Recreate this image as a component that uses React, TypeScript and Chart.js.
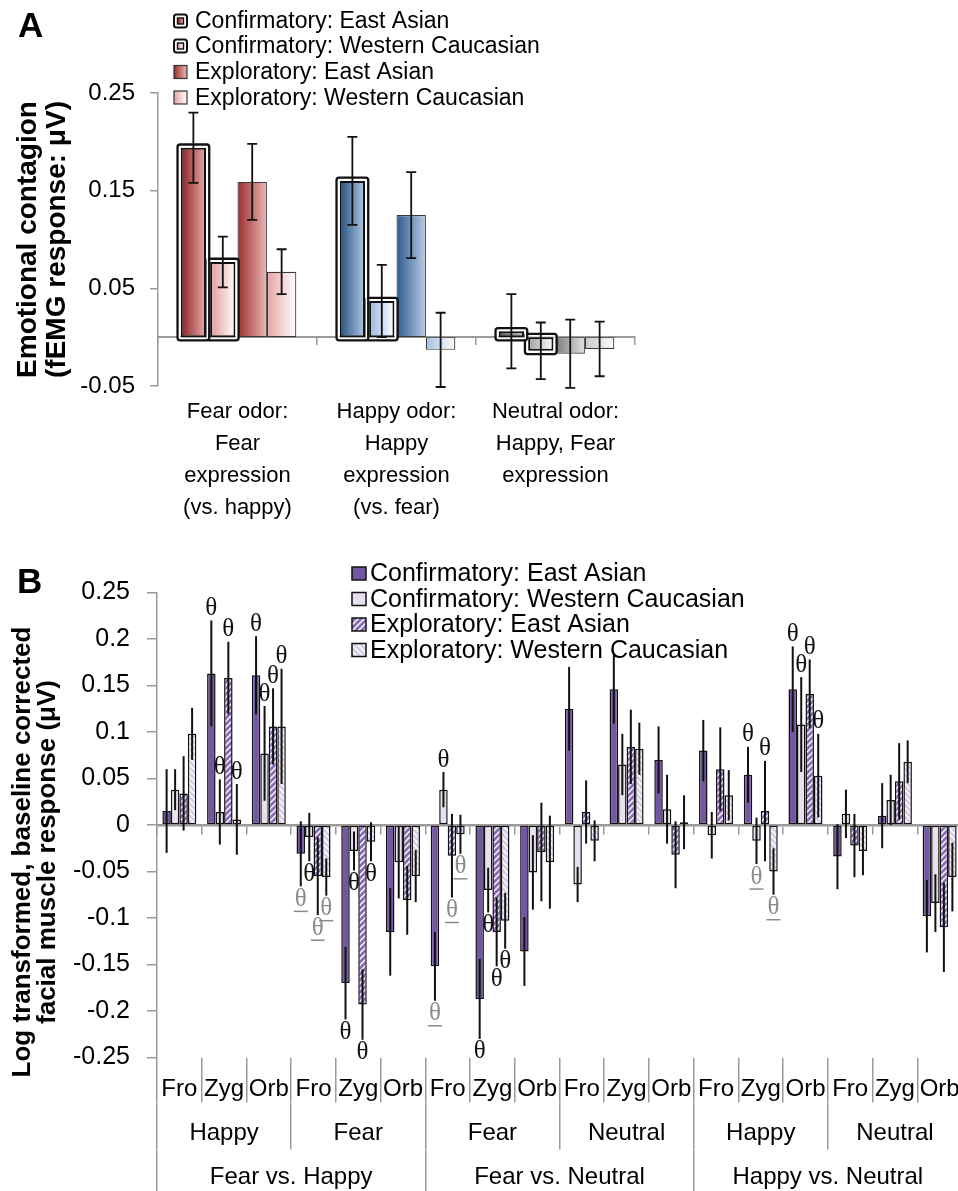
import React, { useEffect, useRef } from 'react';
import { Chart, registerables } from 'chart.js';

Chart.register(...registerables);

const SANS = '"Liberation Sans", Arial, Helvetica, sans-serif';
const SERIF = '"Liberation Serif", "Times New Roman", serif';
Chart.defaults.font.family = SANS;
Chart.defaults.color = '#000';

// ---------------- Panel A data ----------------
const aCategories = [
  ['Fear odor:', 'Fear', 'expression', '(vs. happy)'],
  ['Happy odor:', 'Happy', 'expression', '(vs. fear)'],
  ['Neutral odor:', 'Happy, Fear', 'expression'],
];
const aSeriesNames = [
  'Confirmatory: East Asian',
  'Confirmatory: Western Caucasian',
  'Exploratory: East Asian',
  'Exploratory: Western Caucasian',
];
const aConfEastAsian = [0.194, 0.16, 0.006];
const aConfEastAsianErr = [0.036, 0.045, 0.038];
const aConfWestern = [0.077, 0.037, -0.014];
const aConfWesternErr = [0.026, 0.037, 0.029];
const aExpEastAsian = [0.159, 0.125, -0.017];
const aExpEastAsianErr = [0.039, 0.044, 0.035];
const aExpWestern = [0.067, -0.013, -0.012];
const aExpWesternErr = [0.023, 0.038, 0.028];
const aTickValues = [-0.05, 0.05, 0.15, 0.25];
const aAxisTitle = ['Emotional contagion', '(fEMG response: \u03bcV)'];

// ---------------- Panel B data ----------------
const bMuscles = ['Fro', 'Zyg', 'Orb', 'Fro', 'Zyg', 'Orb', 'Fro', 'Zyg', 'Orb', 'Fro', 'Zyg', 'Orb', 'Fro', 'Zyg', 'Orb', 'Fro', 'Zyg', 'Orb'];
const bExpressions = ['Happy', 'Fear', 'Fear', 'Neutral', 'Happy', 'Neutral'];
const bComparisons = ['Fear vs. Happy', 'Fear vs. Neutral', 'Happy vs. Neutral'];
const bSeriesNames = [
  'Confirmatory: East Asian',
  'Confirmatory: Western Caucasian',
  'Exploratory: East Asian',
  'Exploratory: Western Caucasian',
];
const bConfEastAsian = [0.015, 0.163, 0.161, -0.031, -0.17, -0.115, -0.152, -0.187, -0.136, 0.125, 0.146, 0.07, 0.08, 0.054, 0.146, -0.034, 0.01, -0.098];
const bConfEastAsianErr = [0.045, 0.057, 0.042, 0.035, 0.039, 0.047, 0.037, 0.043, 0.037, 0.045, 0.037, 0.036, 0.033, 0.03, 0.046, 0.035, 0.035, 0.039];
const bConfWestern = [0.038, 0.014, 0.077, -0.013, -0.028, -0.04, 0.038, -0.07, -0.051, -0.064, 0.065, 0.017, -0.011, -0.017, 0.108, 0.012, 0.027, -0.084];
const bConfWesternErr = [0.022, 0.035, 0.051, 0.026, 0.021, 0.039, 0.019, 0.024, 0.04, 0.019, 0.033, 0.037, 0.025, 0.025, 0.051, 0.026, 0.027, 0.031];
const bExpEastAsian = [0.034, 0.158, 0.106, -0.055, -0.193, -0.081, -0.033, -0.115, -0.029, 0.014, 0.084, -0.032, 0.06, 0.015, 0.141, -0.022, 0.047, -0.11];
const bExpEastAsianErr = [0.04, 0.039, 0.041, 0.042, 0.038, 0.037, 0.045, 0.037, 0.053, 0.034, 0.04, 0.036, 0.045, 0.054, 0.037, 0.034, 0.041, 0.048];
const bExpWestern = [0.098, 0.006, 0.106, -0.056, -0.018, -0.055, -0.01, -0.103, -0.04, -0.017, 0.082, 0.003, 0.032, -0.05, 0.053, -0.028, 0.068, -0.056];
const bExpWesternErr = [0.028, 0.038, 0.062, 0.02, 0.021, 0.028, 0.021, 0.03, 0.05, 0.022, 0.028, 0.029, 0.027, 0.025, 0.045, 0.026, 0.023, 0.037];
// significance markers: 0 none, 1 black theta, 2 grey underlined theta
const bConfEastAsianSig = [0, 1, 1, 2, 1, 0, 2, 1, 0, 0, 0, 0, 0, 1, 1, 0, 0, 0];
const bConfWesternSig = [0, 1, 1, 1, 1, 0, 1, 1, 0, 0, 0, 0, 0, 2, 1, 0, 0, 0];
const bExpEastAsianSig = [0, 1, 1, 2, 1, 0, 2, 1, 0, 0, 0, 0, 0, 1, 1, 0, 0, 0];
const bExpWesternSig = [0, 1, 1, 2, 1, 0, 2, 1, 0, 0, 0, 0, 0, 2, 1, 0, 0, 0];
const bTickValues = [-0.25, -0.2, -0.15, -0.1, -0.05, 0, 0.05, 0.1, 0.15, 0.2, 0.25];
const bAxisTitle = ['Log transformed, baseline corrected', 'facial muscle response (\u03bcV)'];

// ---------------- styles ----------------
// gradient stops per category (fear red, happy blue, neutral grey) and per series
const aPalettes = [
  [['#8a1f1f', '#e8adad'], ['#e29a9a', '#ffffff'], ['#9a2d2d', '#ebb7b7'], ['#e6a2a2', '#ffffff']],
  [['#24507f', '#b3c9e5'], ['#98b7de', '#ffffff'], ['#2d5a8e', '#b8cde8'], ['#a4bfe2', '#ffffff']],
  [['#4a4a4a', '#c4c4c4'], ['#9c9c9c', '#ffffff'], ['#7a7a7a', '#e2e2e2'], ['#c6c6c6', '#ffffff']],
];
const AXIS_GREY = '#9a9a9a';
const fmt = (v: number) => String(Number(Number(v).toFixed(2)));

function makeHatch(ctx: CanvasRenderingContext2D, base: string, stripe: string, forward: boolean) {
  const size = 6;
  const c = document.createElement('canvas');
  c.width = size;
  c.height = size;
  const g = c.getContext('2d')!;
  g.fillStyle = base;
  g.fillRect(0, 0, size, size);
  g.strokeStyle = stripe;
  g.lineWidth = 1.4;
  g.beginPath();
  if (forward) {
    g.moveTo(0, size); g.lineTo(size, 0);
    g.moveTo(-size / 2, size / 2); g.lineTo(size / 2, -size / 2);
    g.moveTo(size / 2, size * 1.5); g.lineTo(size * 1.5, size / 2);
  } else {
    g.moveTo(0, 0); g.lineTo(size, size);
    g.moveTo(-size / 2, size / 2); g.lineTo(size / 2, size * 1.5);
    g.moveTo(size / 2, -size / 2); g.lineTo(size * 1.5, size / 2);
  }
  g.stroke();
  return ctx.createPattern(c, 'repeat')!;
}

function hGrad(ctx: CanvasRenderingContext2D, x0: number, x1: number, c0: string, c1: string) {
  const g = ctx.createLinearGradient(x0, 0, x1, 0);
  g.addColorStop(0, c0);
  g.addColorStop(1, c1);
  return g;
}

function rr(ctx: CanvasRenderingContext2D, x: number, y: number, w: number, h: number, r: number) {
  ctx.beginPath();
  if ((ctx as any).roundRect) (ctx as any).roundRect(x, y, w, h, r);
  else ctx.rect(x, y, w, h);
}

// ---------------- Panel A plugin ----------------
const aErrors = [aConfEastAsianErr, aConfWesternErr, aExpEastAsianErr, aExpWesternErr];
const aValues = [aConfEastAsian, aConfWestern, aExpEastAsian, aExpWestern];

const panelAPlugin = {
  id: 'panelA',
  beforeDatasetsDraw(chart: any) {
    const ctx = chart.ctx;
    chart.data.datasets.forEach((_ds: any, di: number) => {
      const meta = chart.getDatasetMeta(di);
      meta.data.forEach((el: any, i: number) => {
        const [c0, c1] = aPalettes[i][di];
        el.options.backgroundColor = hGrad(ctx, el.x - el.width / 2, el.x + el.width / 2, c0, c1);
      });
    });
  },
  afterDatasetDraw(chart: any, args: any) {
    if (args.index > 1) return;
    const ctx = chart.ctx;
    ctx.save();
    args.meta.data.forEach((el: any) => {
      const l = el.x - el.width / 2;
      const r = el.x + el.width / 2;
      const t = Math.min(el.y, el.base);
      const b = Math.max(el.y, el.base);
      ctx.strokeStyle = '#ffffff';
      ctx.lineWidth = 1.6;
      ctx.strokeRect(l - 1.3, t - 1.3, r - l + 2.6, b - t + 2.6);
      ctx.strokeStyle = '#111';
      ctx.lineWidth = 2.3;
      rr(ctx, l - 3.2, t - 3.2, r - l + 6.4, b - t + 6.4, 2.5);
      ctx.stroke();
    });
    ctx.restore();
  },
  afterDatasetsDraw(chart: any) {
    const ctx = chart.ctx;
    const ys = chart.scales.y;
    ctx.save();
    ctx.strokeStyle = '#111';
    ctx.lineWidth = 1.8;
    aValues.forEach((vals, di) => {
      const meta = chart.getDatasetMeta(di);
      meta.data.forEach((el: any, i: number) => {
        const v = vals[i];
        const e = aErrors[di][i];
        const yt = ys.getPixelForValue(v + e);
        const yb = ys.getPixelForValue(v - e);
        ctx.beginPath();
        ctx.moveTo(el.x, yt); ctx.lineTo(el.x, yb);
        ctx.moveTo(el.x - 5, yt); ctx.lineTo(el.x + 5, yt);
        ctx.moveTo(el.x - 5, yb); ctx.lineTo(el.x + 5, yb);
        ctx.stroke();
      });
    });
    ctx.restore();
  },
  afterDraw(chart: any) {
    const ctx = chart.ctx;
    ctx.save();
    ctx.fillStyle = '#000';
    ctx.textAlign = 'left';
    ctx.textBaseline = 'alphabetic';
    ctx.font = `bold 35px ${SANS}`;
    ctx.fillText('A', 18, 37);
    const rows = [21, 46, 72, 97.5];
    const x = 174;
    const s = 13;
    aSeriesNames.forEach((name, i) => {
      const y = rows[i] - s / 2;
      if (i < 2) {
        ctx.fillStyle = '#fff';
        ctx.strokeStyle = '#111';
        ctx.lineWidth = 2;
        rr(ctx, x, y, s, s, 2.5);
        ctx.fill();
        ctx.stroke();
        const pal = aPalettes[0][i];
        ctx.fillStyle = hGrad(ctx, x + 3.5, x + s - 3.5, pal[0], pal[1]);
        ctx.fillRect(x + 3.5, y + 3.5, s - 7, s - 7);
        ctx.lineWidth = 1.4;
        ctx.strokeRect(x + 3.5, y + 3.5, s - 7, s - 7);
      } else {
        const pal = aPalettes[0][i];
        ctx.fillStyle = hGrad(ctx, x, x + s, pal[0], pal[1]);
        ctx.fillRect(x, y, s, s);
        ctx.strokeStyle = '#333';
        ctx.lineWidth = 1.2;
        ctx.strokeRect(x, y, s, s);
      }
      ctx.fillStyle = '#000';
      ctx.font = `23px ${SANS}`;
      ctx.textBaseline = 'middle';
      ctx.fillText(name, 195, rows[i] + 1);
    });
    ctx.restore();
  },
};

// ---------------- Panel B plugin ----------------
const bValues = [bConfEastAsian, bConfWestern, bExpEastAsian, bExpWestern];
const bErrors = [bConfEastAsianErr, bConfWesternErr, bExpEastAsianErr, bExpWesternErr];
const bSigs = [bConfEastAsianSig, bConfWesternSig, bExpEastAsianSig, bExpWesternSig];

function makePanelBPlugin(fills: any[]) {
  return {
    id: 'panelB',
    afterLayout(chart: any) {
      // centre the rotated axis title a little below the plot centre, as in the figure
      const tb = chart.titleBlock;
      if (tb) {
        tb.top = 47.5;
        tb.bottom = 566.5;
      }
    },
    afterDatasetsDraw(chart: any) {
      const ctx = chart.ctx;
      const ys = chart.scales.y;
      ctx.save();
      bValues.forEach((vals, di) => {
        const meta = chart.getDatasetMeta(di);
        meta.data.forEach((el: any, i: number) => {
          const v = vals[i];
          const e = bErrors[di][i];
          const yt = ys.getPixelForValue(v + e);
          const yb = ys.getPixelForValue(v - e);
          ctx.strokeStyle = '#111';
          ctx.lineWidth = 2;
          ctx.beginPath();
          ctx.moveTo(el.x, yt);
          ctx.lineTo(el.x, yb);
          ctx.stroke();
          const m = bSigs[di][i];
          if (m) {
            const ty = v >= 0 ? yt - 12 : yb + 13;
            ctx.font = `25px ${SERIF}`;
            ctx.textAlign = 'center';
            ctx.textBaseline = 'middle';
            ctx.fillStyle = m === 1 ? '#111' : '#8c8c8c';
            ctx.fillText('\u03b8', el.x, ty);
            if (m === 2) {
              ctx.strokeStyle = '#8c8c8c';
              ctx.lineWidth = 1.5;
              ctx.beginPath();
              ctx.moveTo(el.x - 7, ty + 12);
              ctx.lineTo(el.x + 7, ty + 12);
              ctx.stroke();
            }
          }
        });
      });
      ctx.restore();
    },
    afterDraw(chart: any) {
      const ctx = chart.ctx;
      ctx.save();
      ctx.fillStyle = '#000';
      ctx.textAlign = 'left';
      ctx.textBaseline = 'alphabetic';
      ctx.font = `bold 35px ${SANS}`;
      ctx.fillText('B', 17, 48);
      const rows = [28.5, 54, 79.5, 105];
      bSeriesNames.forEach((name, i) => {
        const y = rows[i];
        ctx.fillStyle = fills[i];
        ctx.fillRect(352, y - 6.5, 14, 13);
        ctx.strokeStyle = '#111';
        ctx.lineWidth = 1.5;
        ctx.strokeRect(352, y - 6.5, 14, 13);
        ctx.fillStyle = '#000';
        ctx.font = `25px ${SANS}`;
        ctx.textBaseline = 'middle';
        ctx.fillText(name, 370, y + 1);
      });
      ctx.restore();
    },
  };
}

export default function App() {
  const refA = useRef<HTMLCanvasElement>(null);
  const refB = useRef<HTMLCanvasElement>(null);

  useEffect(() => {
    const scriptColor = () => '#cccccc';
    const chartA = new Chart(refA.current!, {
      type: 'bar',
      data: {
        labels: aCategories as any,
        datasets: [
          { label: aSeriesNames[0], data: aConfEastAsian, backgroundColor: scriptColor, borderColor: '#111', borderWidth: 2, borderSkipped: false, barPercentage: 0.86, xAxisID: 'x', yAxisID: 'y' },
          { label: aSeriesNames[1], data: aConfWestern, backgroundColor: scriptColor, borderColor: '#111', borderWidth: 2, borderSkipped: false, barPercentage: 0.86, xAxisID: 'x', yAxisID: 'y' },
          { label: aSeriesNames[2], data: aExpEastAsian, backgroundColor: scriptColor, borderColor: '#3a3a3a', borderWidth: 1.2, borderSkipped: false, barPercentage: 1, xAxisID: 'x', yAxisID: 'y' },
          { label: aSeriesNames[3], data: aExpWestern, backgroundColor: scriptColor, borderColor: '#3a3a3a', borderWidth: 1.2, borderSkipped: false, barPercentage: 1, xAxisID: 'x', yAxisID: 'y' },
        ] as any,
      },
      options: {
        responsive: false,
        animation: false,
        devicePixelRatio: 1,
        layout: { padding: { left: 0, right: 323, top: 93, bottom: 0 } },
        datasets: { bar: { categoryPercentage: 0.74 } },
        plugins: { legend: { display: false }, tooltip: { enabled: false } },
        scales: {
          y: {
            type: 'linear',
            min: -0.05,
            max: 0.25,
            afterBuildTicks: (s: any) => { s.ticks = aTickValues.map((value) => ({ value })); },
            afterFit: (s: any) => { s.width = 158; },
            ticks: { callback: (v: any) => fmt(v), font: { size: 24 }, color: '#000', padding: 15 },
            grid: { drawOnChartArea: false, drawTicks: true, tickLength: 8, color: AXIS_GREY, lineWidth: 1.5 },
            border: { display: true, color: AXIS_GREY, width: 1.5 },
            title: {
              display: true,
              text: aAxisTitle,
              font: { size: 28, weight: 'bold', lineHeight: '29px' },
              color: '#000',
              padding: { top: 14, bottom: 0 },
            },
          },
          x: {
            type: 'category',
            position: 'bottom',
            afterFit: (s: any) => { s.height = 159; },
            grid: { display: false, drawTicks: false },
            border: { display: false },
            ticks: { font: { size: 22, lineHeight: '32px' }, color: '#000', padding: 10, maxRotation: 0, autoSkip: false },
          },
          x0: {
            type: 'category',
            axis: 'x',
            position: { y: 0 },
            labels: aCategories.map(() => ''),
            offset: true,
            grid: { offset: true, drawOnChartArea: false, drawTicks: true, tickLength: 7, color: AXIS_GREY, lineWidth: 1.5 },
            border: { display: true, color: AXIS_GREY, width: 2 },
            ticks: { display: false },
          },
        } as any,
      },
      plugins: [panelAPlugin as any],
    });

    const ctxB = refB.current!.getContext('2d')!;
    const hatchEA = makeHatch(ctxB, '#8a6cb6', '#ffffff', true);
    const hatchWC = makeHatch(ctxB, '#d6cde6', '#ffffff', false);
    const fillsB = ['#7457a2', '#e7e1ef', hatchEA, hatchWC];

    const chartB = new Chart(refB.current!, {
      type: 'bar',
      data: {
        labels: bMuscles,
        datasets: bSeriesNames.map((name, i) => ({
          label: name,
          data: bValues[i],
          backgroundColor: fillsB[i],
          borderColor: '#111',
          borderWidth: 1.5,
          borderSkipped: false,
          xAxisID: 'x',
          yAxisID: 'y',
        })) as any,
      },
      options: {
        responsive: false,
        animation: false,
        devicePixelRatio: 1,
        layout: { padding: { left: 0, right: 0, top: 47.5, bottom: 0 } },
        datasets: { bar: { categoryPercentage: 0.76, barPercentage: 1 } },
        plugins: {
          legend: { display: false },
          tooltip: { enabled: false },
          title: {
            display: true,
            position: 'left',
            text: bAxisTitle,
            font: { size: 26, weight: 'bold', lineHeight: '25px' },
            color: '#000',
            padding: { top: 10.5, bottom: 0 },
          },
        },
        scales: {
          y: {
            type: 'linear',
            min: -0.25,
            max: 0.25,
            afterBuildTicks: (s: any) => { s.ticks = bTickValues.map((value) => ({ value })); },
            afterFit: (s: any) => { s.width = 96.5; },
            ticks: { callback: (v: any) => fmt(v), font: { size: 25 }, color: '#000', padding: 17 },
            grid: { drawOnChartArea: false, drawTicks: true, tickLength: 10, color: AXIS_GREY, lineWidth: 1.5 },
            border: { display: true, color: AXIS_GREY, width: 1.5 },
          },
          x: {
            type: 'category',
            position: 'bottom',
            weight: 0,
            afterFit: (s: any) => { s.height = 45; },
            grid: { display: true, offset: true, drawOnChartArea: false, drawTicks: true, tickLength: 45, color: AXIS_GREY, lineWidth: 1.5 },
            border: { display: false },
            ticks: { font: { size: 24, lineHeight: 1.2 }, color: '#000', padding: -28, maxRotation: 0, autoSkip: false },
          },
          x2: {
            type: 'category',
            axis: 'x',
            position: 'bottom',
            weight: 1,
            labels: bExpressions,
            offset: true,
            afterFit: (s: any) => { s.height = 47; },
            grid: { display: true, offset: true, drawOnChartArea: false, drawTicks: true, tickLength: 47, color: AXIS_GREY, lineWidth: 1.5 },
            border: { display: false },
            ticks: { font: { size: 24, lineHeight: 1.2 }, color: '#000', padding: -31, maxRotation: 0, autoSkip: false },
          },
          x3: {
            type: 'category',
            axis: 'x',
            position: 'bottom',
            weight: 2,
            labels: bComparisons,
            offset: true,
            afterFit: (s: any) => { s.height = 41.5; },
            grid: { display: true, offset: true, drawOnChartArea: false, drawTicks: true, tickLength: 41.5, color: AXIS_GREY, lineWidth: 1.5 },
            border: { display: false },
            ticks: { font: { size: 24, lineHeight: 1.2 }, color: '#000', padding: -28.4, maxRotation: 0, autoSkip: false },
          },
          x0: {
            type: 'category',
            axis: 'x',
            position: { y: 0 },
            labels: bMuscles.map(() => ''),
            offset: true,
            grid: { offset: true, drawOnChartArea: false, drawTicks: true, tickLength: 8, color: AXIS_GREY, lineWidth: 1.5 },
            border: { display: true, color: AXIS_GREY, width: 2.5 },
            ticks: { display: false },
          },
        } as any,
      },
      plugins: [makePanelBPlugin(fillsB) as any],
    });

    return () => {
      chartA.destroy();
      chartB.destroy();
    };
  }, []);

  return (
    <div style={{ position: 'absolute', left: 0, top: 0, width: 958, height: 1191, overflow: 'hidden', background: '#ffffff' }}>
      <canvas ref={refA} width={958} height={545} style={{ position: 'absolute', left: 0, top: 0, width: 958, height: 545, display: 'block' }} />
      <canvas ref={refB} width={962} height={646} style={{ position: 'absolute', left: 0, top: 545, width: 962, height: 646, display: 'block' }} />
    </div>
  );
}
